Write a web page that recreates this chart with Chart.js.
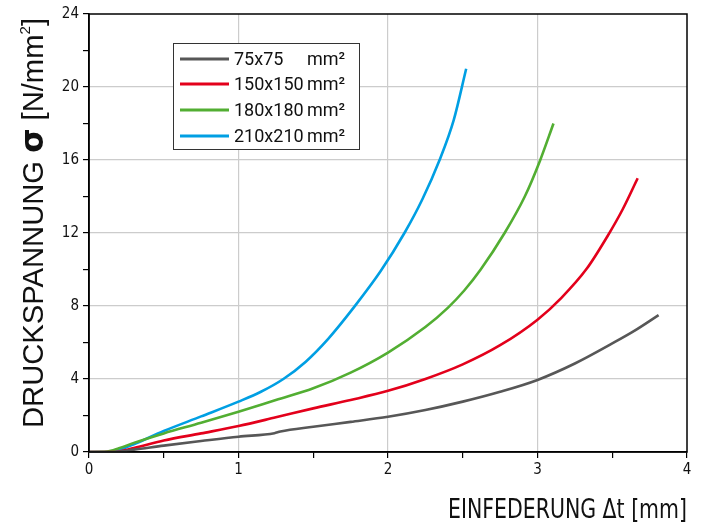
<!DOCTYPE html>
<html>
<head>
<meta charset="utf-8">
<script src="https://cdn.jsdelivr.net/npm/chart.js@4.4.1/dist/chart.umd.min.js"></script>
<style>
html,body{margin:0;padding:0;background:#fff;}
#c{display:block;}
</style>
</head>
<body>
<canvas id="c" width="704" height="524"></canvas>
<script>
// ---- data ----
const sizeLabels = ['75x75', '150x150', '180x180', '210x210'];
const unitLabel = 'mm²';
const xTitle = 'EINFEDERUNG Δt [mm]';
const yTitleParts = ['DRUCKSPANNUNG ', 'σ', ' [N/mm', '2', ']'];
const xTickValues = [0, 1, 2, 3, 4];
const yTickValues = [0, 4, 8, 12, 16, 20, 24];

const s75x = [0, 0.16, 0.3, 0.5, 0.75, 1.0, 1.24, 1.28, 1.5, 1.75, 2.0, 2.25, 2.5, 2.75, 3.0, 3.25, 3.5, 3.65, 3.81];
const s75y = [0, 0, 0.13, 0.35, 0.6, 0.84, 1.03, 1.12, 1.38, 1.65, 1.93, 2.3, 2.76, 3.3, 3.95, 4.85, 5.95, 6.65, 7.5];

const s150x = [0, 0.16, 0.3, 0.5, 0.75, 1.0, 1.25, 1.5, 1.75, 2.0, 2.25, 2.5, 2.75, 3.0, 3.16, 3.33, 3.47, 3.57, 3.67];
const s150y = [0, 0, 0.22, 0.63, 1.02, 1.42, 1.9, 2.39, 2.85, 3.35, 4.0, 4.8, 5.85, 7.25, 8.45, 10.05, 11.85, 13.3, 15.0];

const s180x = [0, 0.12, 0.2, 0.3, 0.5, 0.75, 1.0, 1.25, 1.5, 1.75, 2.0, 2.25, 2.4, 2.51, 2.62, 2.78, 2.915, 3.016, 3.107];
const s180y = [0, 0.02, 0.2, 0.5, 1.02, 1.6, 2.21, 2.85, 3.49, 4.35, 5.45, 6.85, 7.9, 8.85, 10.0, 12.0, 14.0, 15.95, 18.0];

const s210x = [0, 0.13, 0.2, 0.3, 0.5, 0.75, 1.0, 1.15, 1.3, 1.45, 1.6, 1.774, 1.95, 2.11, 2.23, 2.345, 2.44, 2.523];
const s210y = [0, 0, 0.12, 0.42, 1.15, 1.95, 2.76, 3.3, 4.0, 4.95, 6.2, 7.95, 9.9, 12.0, 13.85, 16.0, 18.2, 21.0];

const seriesColors = ['#575757', '#e3001b', '#52ae32', '#009fe3'];

function pts(xs, ys){ return xs.map((x,i)=>({x:x, y:ys[i]})); }
const seriesData = [pts(s75x,s75y), pts(s150x,s150y), pts(s180x,s180y), pts(s210x,s210y)];

const NARROW = '"Liberation Sans Narrow", "DejaVu Sans Condensed", "Roboto Condensed", sans-serif';
const REG = '"Liberation Sans", Arial, sans-serif';

const framePlugin = {
  id: 'frame',
  afterDraw(chart){
    const ctx = chart.ctx, a = chart.chartArea;
    ctx.save();
    ctx.strokeStyle = '#000';
    ctx.lineWidth = 1.5;
    ctx.strokeRect(a.left, a.top, a.right - a.left, a.bottom - a.top);
    ctx.restore();
  }
};

const legendPlugin = {
  id: 'customLegend',
  afterDraw(chart){
    const ctx = chart.ctx;
    const bx = 173, by = 43, bw = 186, bh = 106;
    ctx.save();
    ctx.fillStyle = '#fff';
    ctx.fillRect(bx, by, bw, bh);
    ctx.strokeStyle = '#333';
    ctx.lineWidth = 1;
    ctx.strokeRect(bx + 0.5, by + 0.5, bw, bh);
    const rows = [59, 84, 110, 136];
    ctx.font = '18px Roboto, "Liberation Sans", sans-serif';
    ctx.textBaseline = 'middle';
    ctx.fillStyle = '#111';
    sizeLabels.forEach((lab, i) => {
      const y = rows[i];
      ctx.strokeStyle = seriesColors[i];
      ctx.lineWidth = 3;
      ctx.beginPath(); ctx.moveTo(180, y); ctx.lineTo(229, y); ctx.stroke();
      ctx.fillText(lab, 234, y + 1);
      ctx.fillText(unitLabel, 307, y + 1);
    });
    ctx.restore();
  }
};

const titlePlugin = {
  id: 'axisTitles',
  afterDraw(chart){
    const ctx = chart.ctx;
    ctx.save();
    ctx.fillStyle = '#111';
    // x title, right aligned at plot right edge
    ctx.font = '27px ' + NARROW;
    ctx.textBaseline = 'alphabetic';
    const xw = ctx.measureText(xTitle).width;
    const targetW = 239;
    ctx.save();
    ctx.translate(687 - targetW, 518);
    ctx.scale(targetW / xw, 1);
    ctx.fillText(xTitle, 0, 0);
    ctx.restore();

    // y title, rotated, mixed runs
    const fonts = ['29px ' + REG, 'bold 31px "DejaVu Sans", sans-serif', '29px ' + REG, '15px ' + REG, '29px ' + REG];
    const shifts = [0, 0, 0, -13, 0];
    let total = 0;
    const widths = yTitleParts.map((t, i) => { ctx.font = fonts[i]; const w = ctx.measureText(t).width; total += w; return w; });
    const target = 410;
    ctx.translate(43, 428);
    ctx.rotate(-Math.PI / 2);
    ctx.scale(target / total, 1);
    let x = 0;
    yTitleParts.forEach((t, i) => {
      ctx.font = fonts[i];
      ctx.fillText(t, x, shifts[i]);
      x += widths[i];
    });
    ctx.restore();
  }
};

new Chart(document.getElementById('c'), {
  type: 'line',
  data: {
    datasets: seriesData.map((d, i) => ({
      label: sizeLabels[i] + ' ' + unitLabel,
      data: d,
      borderColor: seriesColors[i],
      backgroundColor: seriesColors[i],
      borderWidth: 2.6,
      pointRadius: 0,
      cubicInterpolationMode: 'monotone',
      fill: false
    }))
  },
  options: {
    responsive: false,
    devicePixelRatio: 1,
    animation: false,
    layout: { padding: { left: 49, top: 14, right: 17, bottom: 0 } },
    plugins: { legend: { display: false }, tooltip: { enabled: false } },
    scales: {
      x: {
        type: 'linear', min: 0, max: 4,
        afterFit(s){ s.height = 72; },
        ticks: {
          stepSize: 0.5, autoSkip: false, maxRotation: 0,
          color: '#111', padding: 3,
          font: { family: NARROW, size: 15 },
          callback: v => xTickValues.includes(v) ? String(v) : ''
        },
        grid: {
          color: c => (c.tick && xTickValues.includes(c.tick.value) && c.tick.value > 0 && c.tick.value < 4) ? '#cccccc' : 'rgba(0,0,0,0)',
          tickColor: '#000', tickLength: 6, lineWidth: 1.2
        },
        border: { color: '#000', width: 1.5 }
      },
      y: {
        type: 'linear', min: 0, max: 24,
        afterFit(s){ s.width = 40; },
        ticks: {
          stepSize: 2, autoSkip: false,
          color: '#111', padding: 4,
          font: { family: NARROW, size: 15 },
          callback: v => yTickValues.includes(v) ? String(v) : ''
        },
        grid: {
          color: c => (c.tick && yTickValues.includes(c.tick.value) && c.tick.value > 0 && c.tick.value < 24) ? '#cccccc' : 'rgba(0,0,0,0)',
          tickColor: '#000', tickLength: 6, lineWidth: 1.2
        },
        border: { color: '#000', width: 1.5 }
      }
    }
  },
  plugins: [framePlugin, legendPlugin, titlePlugin]
});
</script>
</body>
</html>
